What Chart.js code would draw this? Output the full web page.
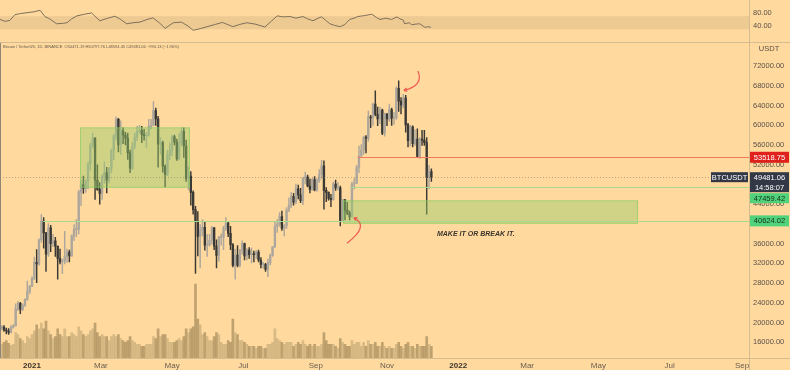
<!DOCTYPE html>
<html>
<head>
<meta charset="utf-8">
<script src="https://cdn.jsdelivr.net/npm/chart.js@4.4.1/dist/chart.umd.min.js"></script>
<style>
  body { margin: 0; background: #ffd99e; width: 790px; height: 370px; overflow: hidden; position: relative; }
  canvas { position: absolute; left: 0; }
  #rsi { top: 0; }
  #main { top: 43px; }
</style>
</head>
<body>
<canvas id="rsi" width="790" height="43"></canvas>
<canvas id="main" width="790" height="327"></canvas>
<script>
// BTCUSDT, 2-day candles from Dec 5 2020, prices in thousand USDT
// days are counted from Jan 1 2021
const firstDay = -27;
const stepDays = 2;
const firstOpen = 19.0;

const closes = [
  19.1,18.5,18.3,18.0,19.1,19.4,22.8,23.9,22.7,23.5,24.7,26.3,27.4,29.0,
  32.2,31.9,36.8,40.6,38.2,33.9,39.2,36.0,36.6,35.5,33.0,32.3,32.5,33.4,34.3,
  33.5,37.6,38.9,38.9,46.5,48.0,47.2,48.7,52.1,55.9,57.4,48.9,47.0,46.2,
  49.6,50.4,48.9,51.2,54.9,57.8,61.2,56.0,58.9,58.0,57.4,54.4,51.3,55.8,57.6,58.8,
  59.0,58.1,57.9,58.0,59.8,60.0,63.0,61.3,56.2,56.5,51.7,50.0,54.0,54.9,57.7,
  56.6,53.2,56.4,58.8,55.8,49.2,49.7,46.4,42.9,40.6,37.5,38.8,39.3,35.7,35.7,
  36.7,39.2,35.5,33.6,37.3,37.3,39.1,40.2,38.1,35.8,31.6,33.7,31.6,34.7,36.0,
  33.5,34.7,33.8,33.9,33.8,34.3,32.7,31.8,31.8,30.8,32.1,33.6,35.4,39.5,40.0,41.5,
  39.1,39.7,42.8,43.8,45.6,44.4,47.1,45.9,44.7,49.3,49.5,47.7,47.0,49.0,46.9,
  48.8,50.0,51.8,46.8,46.4,45.2,44.9,48.1,47.3,47.3,40.7,44.9,42.8,42.2,41.5,
  48.1,48.2,51.5,53.8,55.0,57.5,57.4,61.7,61.5,64.3,62.2,61.3,63.1,58.4,62.3,61.3,
  63.2,61.4,61.5,67.5,64.9,64.1,65.5,60.1,56.9,59.7,56.3,57.2,53.7,57.2,57.0,
  56.5,49.4,50.6,49.48
];
const highs = [
  19.4,19.4,18.9,18.8,19.4,19.6,23.8,24.3,24.1,23.8,24.8,28.4,27.5,29.3,
  33.3,34.8,37.0,41.9,41.3,38.3,40.1,39.7,37.9,37.3,35.5,34.9,32.9,38.5,34.9,
  34.7,37.8,39.9,40.9,46.8,48.9,49.7,49.0,52.6,56.4,58.4,57.5,52.0,48.4,
  50.0,52.6,51.5,51.5,55.2,58.1,61.7,61.4,60.9,59.5,58.6,58.4,55.0,56.5,58.4,59.8,
  60.0,59.8,59.2,58.6,61.2,61.2,64.8,63.5,61.8,57.5,56.8,52.0,55.0,56.4,58.0,
  58.0,57.2,58.3,59.5,59.5,57.0,51.6,50.6,46.7,43.6,42.5,39.9,40.9,40.4,37.9,
  37.9,39.5,39.3,36.8,37.5,38.0,39.5,41.3,40.5,39.5,36.0,34.9,35.6,34.8,36.6,
  36.1,35.0,35.2,35.1,34.5,34.6,34.7,33.2,32.2,32.0,32.9,33.9,35.4,40.5,40.9,42.3,
  42.6,39.9,43.3,45.3,46.4,46.2,48.1,47.9,47.2,49.4,50.5,49.9,49.1,49.3,49.6,
  49.2,51.0,52.9,52.8,47.4,46.5,46.0,48.5,48.9,48.4,47.7,45.0,45.0,44.4,42.6,
  48.5,49.2,51.9,55.8,56.1,57.8,57.9,62.9,62.0,64.5,67.0,63.7,63.7,63.3,62.5,62.4,
  64.3,63.5,62.6,67.8,69.0,65.6,66.3,66.1,60.4,60.0,59.9,59.1,59.3,57.5,59.0,
  59.0,57.5,51.9,51.2
];
const lows = [
  18.5,18.2,17.7,17.6,17.9,18.9,19.3,22.4,21.8,22.4,23.3,24.5,25.8,27.3,
  28.7,28.1,31.6,36.3,35.1,30.4,33.4,34.4,35.4,33.4,28.8,31.9,29.9,31.9,32.2,
  32.3,33.4,36.6,37.4,38.0,43.7,46.2,46.4,47.1,50.9,55.4,45.0,46.8,44.0,
  45.0,48.2,46.3,48.3,50.4,53.0,57.0,54.6,54.1,56.3,56.0,53.1,50.4,51.0,55.2,56.9,
  58.4,56.5,57.0,55.5,57.8,59.2,59.9,60.0,51.5,54.2,50.5,47.5,49.8,53.0,53.8,
  56.0,52.9,53.0,55.8,53.5,48.6,46.9,43.8,42.0,30.0,33.5,31.1,37.6,34.7,33.4,
  35.5,35.9,34.8,31.1,32.4,35.7,34.8,38.7,37.4,34.8,31.3,28.8,31.3,31.3,33.9,
  32.7,32.7,33.0,32.1,32.3,33.0,32.3,31.1,31.0,30.4,29.3,31.7,33.4,35.2,38.3,39.5,
  38.7,37.6,39.1,42.5,43.3,43.8,44.1,45.1,44.3,43.9,48.1,47.5,46.3,46.8,46.7,
  46.6,48.4,49.3,43.0,44.5,44.8,43.5,44.8,46.8,46.9,39.6,40.5,40.8,41.9,40.8,
  41.4,47.1,48.2,50.4,53.7,54.1,54.4,56.8,59.5,60.0,61.9,59.9,60.3,58.1,57.8,59.9,
  60.8,60.0,60.2,61.2,62.8,62.3,63.5,58.6,55.6,55.8,55.6,55.9,53.6,53.3,55.9,
  55.9,42.0,47.1,48.6
];
// thousand BTC
const volumes = [
  42,48,54,45,39,42,78,72,60,54,45,66,60,72,
  84,102,90,108,90,114,84,72,60,66,90,72,66,90,66,
  66,78,72,66,96,84,72,66,72,84,90,108,78,66,
  72,66,66,54,66,72,66,72,60,54,48,54,66,54,48,42,
  42,36,36,42,42,42,66,60,90,66,72,72,60,48,48,
  48,54,60,54,66,90,78,90,96,228,120,102,72,78,66,
  54,54,66,78,72,48,42,42,54,48,120,78,72,54,54,
  48,42,36,36,36,30,36,36,30,30,42,42,48,90,60,54,
  48,42,48,48,48,36,42,48,42,54,42,36,42,36,42,
  36,36,42,78,54,42,42,42,36,30,60,48,42,36,36,
  54,42,48,48,36,48,36,54,42,42,48,36,36,48,36,30,
  36,30,30,42,48,36,30,42,48,36,36,30,42,36,36,
  36,66,42,36
];

const rsiDays = [-27.4,-23,-19,-14.6,-10,-6,1,7,11,15,21,26,30,34,38.5,45,51,58,65,71,76,81,86.5,92.5,
  98.5,103.6,109,114,121,128,133.6,138,144,150,157,163,168,172,178,184,191,199.5,205,210,215,221,226,
  232,236,240.6,245,248,252,255,259,264,268,272,276.6,279,285,291,295,298,303,308,312.5,315,318,319,
  323,325,329,332,336.5,339,341.7];
const rsiValues = [60,54.5,57,74.5,78,80,83,88,69,62,47,48,50,62,71,76,80,56,64,70,60,47,50,52,
  60,65,50,33,50,52,40,27,32,38,45,51,44,38,45,50,46,37,55,71,68,69,64,69,62,56,64,68,56,47,42,
  38,45,60,65,69,72,76,66,60,64,60,68,62,58,47,50,44,46,47,36,38,36];

const monthTicks = [0, 59, 120, 181, 243, 304, 365, 424, 485, 546, 608];
const monthLabels = ['2021', 'Mar', 'May', 'Jul', 'Sep', 'Nov', '2022', 'Mar', 'May', 'Jul', 'Sep'];
const priceTicks = [16000, 20000, 24000, 28000, 32000, 36000, 40000, 44000, 48000, 52000, 56000, 60000, 64000, 68000, 72000];
const rsiTicks = [40, 80];

const redLevel = 53518.75;
const lastPrice = 49481.06;
const greenLevel = 47459.42;
const supportLevel = 40624.02;
const countdown = '14:58:07';

// drawings, in days / USDT
const zones = [
  { from: 41.1, to: 135.3, low: 47345, high: 59574 },
  { from: 266.3, to: 519, low: 40047, high: 44781 }
];
const arrows = [
  [[330.5, 71014], [335.7, 68055], [318.5, 67069]],
  [[269.7, 36103], [289.4, 39653], [275.7, 41231]]
];

const xMin = -27.4, xMax = 614;
const FONT = '"Liberation Sans", Arial, sans-serif';

const opens = closes.map((c, i) => i === 0 ? firstOpen : closes[i - 1]);
const dayOf = i => firstDay + i * stepDays + 1;
const isUp = i => closes[i] >= opens[i];

const bodyData = closes.map((c, i) => ({ x: dayOf(i), y: [opens[i] * 1000, c * 1000] }));
const wickData = closes.map((c, i) => ({ x: dayOf(i), y: [lows[i] * 1000, highs[i] * 1000] }));
const volData = volumes.map((v, i) => ({ x: dayOf(i), y: v }));

function tag(ctx, left, top, w, h, bg, fg, lines) {
  ctx.fillStyle = bg;
  ctx.fillRect(left, top, w, h);
  ctx.fillStyle = fg;
  ctx.font = '7.5px ' + FONT;
  ctx.textAlign = 'center';
  ctx.textBaseline = 'middle';
  const lh = h / lines.length;
  lines.forEach((t, i) => ctx.fillText(t, left + w / 2, top + lh * (i + 0.5) + 0.5));
}

const overlay = {
  id: 'overlay',
  afterDatasetsDraw(chart) {
    const { ctx, chartArea: a } = chart;
    const x = chart.scales.x, y = chart.scales.y;
    ctx.save();
    ctx.beginPath();
    ctx.rect(a.left, a.top, a.right - a.left, a.bottom - a.top);
    ctx.clip();

    zones.forEach(z => {
      const x0 = x.getPixelForValue(z.from), x1 = x.getPixelForValue(z.to);
      const y0 = y.getPixelForValue(z.high), y1 = y.getPixelForValue(z.low);
      ctx.fillStyle = 'rgba(150,205,105,0.45)';
      ctx.fillRect(x0, y0, x1 - x0, y1 - y0);
      ctx.strokeStyle = 'rgba(130,205,95,0.6)';
      ctx.lineWidth = 1;
      ctx.strokeRect(x0 + 0.5, y0 + 0.5, x1 - x0 - 1, y1 - y0 - 1);
    });

    const hline = (v, fromDay, color, dash) => {
      const py = Math.round(y.getPixelForValue(v)) + 0.5;
      ctx.strokeStyle = color;
      ctx.lineWidth = 1;
      ctx.setLineDash(dash || []);
      ctx.beginPath();
      ctx.moveTo(x.getPixelForValue(fromDay), py);
      ctx.lineTo(a.right, py);
      ctx.stroke();
      ctx.setLineDash([]);
    };
    hline(lastPrice, xMin, 'rgba(120,110,95,0.5)', [1, 2]);
    hline(redLevel, 279, '#f2775f');
    hline(greenLevel, 272, '#a9d98c');
    hline(supportLevel, 9.5, '#a9d98c');

    ctx.strokeStyle = 'rgba(238,80,75,0.9)';
    ctx.lineWidth = 1.3;
    arrows.forEach(ar => {
      const p = ar.map(q => [x.getPixelForValue(q[0]), y.getPixelForValue(q[1])]);
      ctx.beginPath();
      ctx.moveTo(p[0][0], p[0][1]);
      ctx.quadraticCurveTo(p[1][0], p[1][1], p[2][0], p[2][1]);
      ctx.stroke();
      const ang = Math.atan2(p[2][1] - p[1][1], p[2][0] - p[1][0]);
      ctx.beginPath();
      [-0.5, 0.5].forEach(d => {
        ctx.moveTo(p[2][0], p[2][1]);
        ctx.lineTo(p[2][0] - 3.5 * Math.cos(ang + d), p[2][1] - 3.5 * Math.sin(ang + d));
      });
      ctx.stroke();
    });

    ctx.fillStyle = '#3a3530';
    ctx.font = 'italic bold 7px ' + FONT;
    ctx.textAlign = 'left';
    ctx.textBaseline = 'middle';
    ctx.fillText('MAKE IT OR BREAK IT.', x.getPixelForValue(346.8), y.getPixelForValue(37878));
    ctx.restore();

    // symbol header line
    ctx.save();
    ctx.fillStyle = '#62594c';
    ctx.font = '4px ' + FONT;
    ctx.textAlign = 'left';
    ctx.textBaseline = 'middle';
    ctx.fillText('Bitcoin / TetherUS, 1D, BINANCE  O50471.19 H50797.76 L48594.45 C49481.06 \u2212990.13 (\u22121.96%)', 3, 4);
    ctx.restore();
  },
  afterDraw(chart) {
    const { ctx, chartArea: a } = chart;
    const y = chart.scales.y;
    ctx.save();
    ctx.strokeStyle = '#d4bb90';
    ctx.lineWidth = 1;
    ctx.beginPath();
    ctx.moveTo(a.right + 0.5, 0);
    ctx.lineTo(a.right + 0.5, chart.height);
    ctx.moveTo(0, a.bottom + 0.5);
    ctx.lineTo(chart.width, a.bottom + 0.5);
    ctx.stroke();
    ctx.strokeStyle = '#8f8576';
    ctx.beginPath();
    ctx.moveTo(0.5, 0);
    ctx.lineTo(0.5, a.bottom);
    ctx.stroke();

    ctx.fillStyle = '#5a5248';
    ctx.font = '7.5px ' + FONT;
    ctx.textAlign = 'center';
    ctx.textBaseline = 'middle';
    ctx.fillText('USDT', 769, 6);

    const L = a.right + 1, W = 39;
    const pr = y.getPixelForValue(redLevel);
    tag(ctx, L, pr - 5.5, W, 11, '#e0201c', '#ffffff', [redLevel.toFixed(2)]);
    const pl = y.getPixelForValue(lastPrice);
    tag(ctx, L, pl - 5, W, 20, '#323846', '#ffffff', [lastPrice.toFixed(2), countdown]);
    tag(ctx, 711, pl - 5, 37, 10, '#323846', '#ffffff', ['BTCUSDT']);
    tag(ctx, L, pl + 16, W, 10, '#4fd27a', '#17301d', [greenLevel.toFixed(2)]);
    const ps = y.getPixelForValue(supportLevel);
    tag(ctx, L, ps - 5.5, W, 11, '#4fd27a', '#17301d', [supportLevel.toFixed(2)]);
    ctx.restore();
  }
};

new Chart(document.getElementById('main'), {
  type: 'bar',
  data: {
    datasets: [
      {
        data: bodyData, grouped: false, barThickness: 1.7, minBarLength: 1,
        backgroundColor: c => isUp(c.dataIndex) ? '#aca69c' : '#3b3935'
      },
      {
        data: wickData, grouped: false, barThickness: 0.8,
        backgroundColor: c => isUp(c.dataIndex) ? '#aca69c' : '#3b3935'
      },
      {
        data: volData, yAxisID: 'vol', grouped: false, barThickness: 2,
        backgroundColor: c => isUp(c.dataIndex) ? 'rgba(190,165,115,0.6)' : 'rgba(150,125,80,0.6)'
      }
    ]
  },
  options: {
    responsive: false,
    animation: false,
    devicePixelRatio: 1,
    layout: { padding: 0 },
    plugins: { legend: { display: false }, tooltip: { enabled: false } },
    scales: {
      x: {
        type: 'linear', min: xMin, max: xMax, offset: false,
        grid: { display: false, drawTicks: false, offset: false }, border: { display: false },
        afterBuildTicks: s => { s.ticks = monthTicks.map(v => ({ value: v })); },
        afterFit: s => { s.height = 12; },
        ticks: {
          autoSkip: false, maxRotation: 0, padding: 3,
          callback: v => monthLabels[monthTicks.indexOf(v)],
          font: c => ({ size: 8, family: FONT, weight: (c.tick && (c.tick.value === 0 || c.tick.value === 365)) ? 'bold' : 'normal' }),
          color: c => (c.tick && (c.tick.value === 0 || c.tick.value === 365)) ? '#3a342c' : '#6a6052'
        }
      },
      y: {
        type: 'linear', position: 'right', min: 12830, max: 74960,
        grid: { display: false, drawTicks: false }, border: { display: false },
        afterBuildTicks: s => { s.ticks = priceTicks.map(v => ({ value: v })); },
        afterFit: s => { s.width = 41; },
        ticks: { padding: 4, font: { size: 7.5, family: FONT }, color: '#5a5248', callback: v => v.toFixed(2) }
      },
      vol: { type: 'linear', display: false, min: 0, max: 945 }
    }
  },
  plugins: [overlay]
});

const rsiBand = {
  id: 'rsiBand',
  beforeDatasetsDraw(chart) {
    const { ctx, chartArea: a } = chart;
    const y = chart.scales.y;
    const t = y.getPixelForValue(70), b = y.getPixelForValue(30);
    ctx.save();
    ctx.fillStyle = 'rgba(205,175,125,0.35)';
    ctx.fillRect(a.left, t, a.right - a.left, b - t);
    ctx.restore();
  },
  afterDraw(chart) {
    const { ctx, chartArea: a } = chart;
    ctx.save();
    ctx.strokeStyle = '#d4bb90';
    ctx.lineWidth = 1;
    ctx.beginPath();
    ctx.moveTo(a.right + 0.5, 0);
    ctx.lineTo(a.right + 0.5, chart.height);
    ctx.moveTo(0, chart.height - 0.5);
    ctx.lineTo(chart.width, chart.height - 0.5);
    ctx.stroke();
    ctx.restore();
  }
};

new Chart(document.getElementById('rsi'), {
  type: 'line',
  data: {
    datasets: [{
      data: rsiDays.map((d, i) => ({ x: d, y: rsiValues[i] })),
      borderColor: '#7e705a', borderWidth: 1, pointRadius: 0, tension: 0
    }]
  },
  options: {
    responsive: false,
    animation: false,
    devicePixelRatio: 1,
    layout: { padding: 0 },
    plugins: { legend: { display: false }, tooltip: { enabled: false } },
    scales: {
      x: { type: 'linear', display: false, min: xMin, max: xMax },
      y: {
        type: 'linear', position: 'right', min: 14.2, max: 93.5,
        grid: { display: false, drawTicks: false }, border: { display: false },
        afterBuildTicks: s => { s.ticks = rsiTicks.map(v => ({ value: v })); },
        afterFit: s => { s.width = 41; },
        ticks: { padding: 4, font: { size: 7.5, family: FONT }, color: '#5a5248', callback: v => v.toFixed(2) }
      }
    }
  },
  plugins: [rsiBand]
});
</script>
</body>
</html>
